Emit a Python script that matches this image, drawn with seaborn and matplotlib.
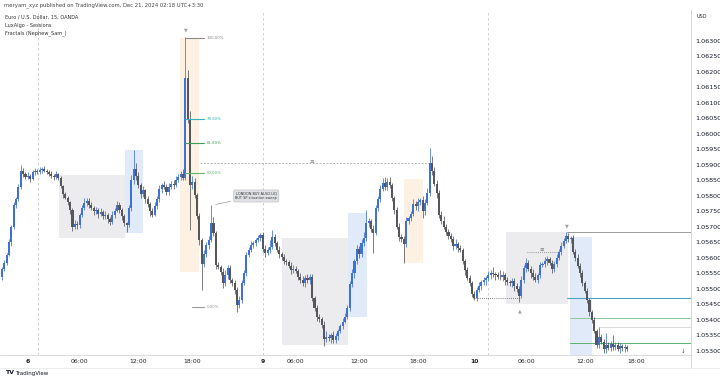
import numpy as np
import pandas as pd
import matplotlib
matplotlib.use("Agg")
import matplotlib.pyplot as plt
import seaborn as sns
from matplotlib.patches import Rectangle

# ---------------- data (prices in points above 1.05000, 1 point = 0.00001) -------------
BASE = 1.05
PT = 1e-5
first_open = 540
close_pts = [
    565, 585, 610, 650, 700, 770, 790, 830, 880, 870,
    862, 866, 856, 876, 882, 878, 885, 888, 882, 878,
    871, 866, 862, 870, 858, 832, 805, 795, 780, 755,
    700, 710, 705, 738, 760, 778, 785, 770, 762, 750,
    755, 742, 748, 735, 740, 725, 715, 738, 752, 770,
    755, 735, 712, 705, 760, 850, 888, 865, 835, 805,
    818, 790, 775, 752, 740, 768, 790, 822, 835, 828,
    812, 830, 840, 836, 852, 862, 870, 858, 1181, 1045,
    835, 845, 803, 735, 658, 580, 612, 642, 658, 713,
    680, 577, 571, 555, 519, 545, 568, 529, 519, 497,
    448, 464, 520, 552, 610, 626, 642, 648, 658, 664,
    674, 630, 616, 626, 635, 668, 648, 626, 612, 603,
    590, 587, 575, 561, 566, 558, 540, 529, 519, 535,
    528, 539, 470, 440, 410, 402, 385, 340, 345, 342,
    350, 335, 348, 365, 380, 395, 410, 440, 515, 552,
    590, 628, 612, 648, 665, 712, 718, 695, 681, 760,
    790, 822, 842, 830, 845, 835, 795, 755, 700, 668,
    660, 645, 720, 728, 742, 775, 768, 781, 787, 750,
    778, 810, 905, 880, 840, 810, 740, 720, 700, 684,
    672, 660, 640, 645, 632, 626, 590, 560, 536, 520,
    485, 470, 497, 510, 522, 530, 535, 545, 552, 548,
    545, 540, 538, 545, 530, 522, 518, 525, 510, 500,
    478, 530, 568, 585, 565, 552, 540, 530, 545, 578,
    580, 590, 596, 585, 565, 580, 600, 620, 640, 655,
    672, 660, 664, 620, 600, 575, 550, 520, 495, 464,
    425, 400, 365, 320, 345, 330, 305, 318, 310, 322,
    312, 320, 306, 315, 308, 312, 305,
]
up_wick = [
    6, 8, 5, 10, 6, 12, 8, 10, 20, 9,
    7, 10, 6, 9, 8, 6, 10, 7, 8, 5,
    6, 9, 5, 12, 4, 6, 5, 8, 6, 4,
    5, 12, 8, 6, 10, 14, 9, 7, 10, 6,
    8, 5, 12, 6, 10, 5, 8, 12, 10, 14,
    9, 6, 8, 5, 10, 18, 60, 20, 12, 8,
    15, 6, 10, 5, 8, 12, 10, 15, 8, 14,
    10, 12, 8, 10, 14, 9, 12, 18, 132, 25,
    30, 20, 12, 8, 10, 6, 14, 10, 12, 58,
    20, 8, 10, 6, 12, 15, 10, 8, 6, 10,
    8, 12, 10, 9, 8, 10, 12, 8, 6, 10,
    8, 10, 12, 8, 22, 22, 10, 8, 12, 6,
    10, 8, 6, 12, 10, 8, 6, 10, 14, 9,
    12, 8, 10, 6, 8, 10, 6, 12, 20, 10,
    8, 15, 10, 6, 8, 10, 12, 8, 10, 12,
    8, 14, 10, 12, 20, 43, 10, 8, 10, 12,
    10, 14, 15, 20, 12, 15, 8, 6, 10, 12,
    8, 10, 12, 8, 10, 14, 10, 12, 8, 14,
    12, 16, 50, 25, 15, 12, 8, 10, 14, 8,
    10, 8, 12, 16, 8, 10, 6, 8, 12, 8,
    6, 10, 8, 12, 8, 10, 6, 12, 10, 18,
    8, 10, 22, 12, 8, 10, 6, 12, 10, 8,
    10, 12, 8, 15, 10, 8, 12, 10, 8, 10,
    8, 12, 10, 6, 8, 10, 12, 8, 10, 8,
    12, 10, 6, 10, 8, 12, 8, 10, 6, 8,
    6, 8, 10, 6, 32, 10, 8, 40, 12, 10,
    30, 8, 10, 12, 8, 10, 6,
]
dn_wick = [
    12, 6, 8, 5, 10, 6, 8, 5, 6, 10,
    8, 6, 10, 5, 8, 6, 8, 10, 6, 8,
    5, 8, 10, 6, 8, 5, 10, 6, 8, 12,
    14, 6, 10, 8, 5, 6, 10, 8, 6, 10,
    8, 12, 6, 10, 8, 12, 10, 6, 8, 5,
    10, 12, 8, 21, 6, 8, 10, 12, 8, 10,
    8, 12, 10, 15, 8, 6, 10, 8, 12, 6,
    10, 8, 6, 12, 8, 6, 10, 8, 5, 10,
    145, 12, 10, 8, 15, 83, 10, 8, 12, 6,
    10, 12, 8, 10, 15, 8, 12, 10, 8, 12,
    22, 10, 8, 6, 10, 8, 6, 10, 8, 6,
    8, 10, 12, 8, 10, 6, 10, 8, 12, 10,
    8, 10, 6, 12, 10, 8, 12, 10, 8, 14,
    10, 12, 8, 10, 12, 8, 10, 24, 12, 10,
    15, 8, 10, 12, 8, 10, 6, 8, 12, 10,
    15, 8, 12, 10, 8, 10, 12, 10, 65, 8,
    10, 8, 6, 12, 10, 8, 10, 12, 8, 14,
    10, 61, 8, 12, 10, 8, 12, 15, 10, 20,
    12, 8, 10, 12, 8, 15, 10, 12, 8, 10,
    12, 8, 15, 10, 12, 8, 10, 14, 8, 10,
    12, 6, 10, 8, 12, 10, 18, 8, 12, 10,
    15, 8, 10, 12, 18, 10, 8, 12, 15, 10,
    20, 8, 10, 12, 8, 15, 10, 8, 12, 10,
    8, 10, 12, 8, 15, 10, 8, 6, 10, 8,
    8, 10, 12, 8, 10, 8, 12, 10, 8, 10,
    12, 10, 8, 12, 10, 8, 10, 12, 8, 10,
    8, 10, 6, 12, 8, 10, 6,
]
time_tick_bars = [11, 33, 58, 81, 111, 125, 152, 177, 201, 223, 248, 270]
time_tick_labels = ["6", "06:00", "12:00", "18:00", "9", "06:00", "12:00", "18:00",
                    "10", "06:00", "12:00", "18:00"]
price_ticks = [1.05300, 1.05350, 1.05400, 1.05450, 1.05500, 1.05550, 1.05600,
               1.05650, 1.05700, 1.05750, 1.05800, 1.05850, 1.05900, 1.05950,
               1.06000, 1.06050, 1.06100, 1.06150, 1.06200, 1.06250, 1.06300]
fib_levels = [("100.00%", 1310), ("78.60%", 1048), ("61.80%", 971), ("50.00%", 874), ("0.00%", 442)]

# ---------------- build OHLC -------------
c = np.array(close_pts, dtype=float)
o = np.concatenate([[first_open], c[:-1]])
hi = np.maximum(o, c) + np.array(up_wick)
lo = np.minimum(o, c) - np.array(dn_wick)
df = pd.DataFrame({"bar": np.arange(len(c)),
                   "open": BASE + o * PT, "close": BASE + c * PT,
                   "high": BASE + hi * PT, "low": BASE + lo * PT})
df["rise"] = df["close"] >= df["open"]


def P(pts):
    return BASE + pts * PT


sns.set_theme(style="white")
plt.rcParams["font.family"] = ["DejaVu Sans"]

fig = plt.figure(figsize=(7.2, 3.8), dpi=100)
fig.patch.set_facecolor("white")
ax = fig.add_axes([0, 0.0658, 0.9597, 0.9079])
ax.set_facecolor("white")

# ---------------- session boxes -------------
boxes = [
    (24.3, 52.3, 665, 868, "#e9e9eb"),
    (52.3, 60.0, 681, 948, "#dbe7f7"),
    (75.7, 83.8, 555, 1310, "#fcefdf"),
    (119.1, 147.2, 319, 664, "#e9e9eb"),
    (147.2, 155.3, 410, 745, "#dbe7f7"),
    (171.0, 179.1, 584, 855, "#fcefdf"),
    (214.5, 240.9, 452, 684, "#e9e9eb"),
    (241.7, 251.0, 250, 668, "#dbe7f7"),
]
for x0, x1, y0, y1, col in boxes:
    ax.add_patch(Rectangle((x0, P(y0)), x1 - x0, P(y1) - P(y0), facecolor=col,
                           edgecolor="none", alpha=0.85, zorder=0))

# day separators
for xv in [15.3, 111.0, 206.8]:
    ax.axvline(xv, color="#c8c8c8", lw=0.6, ls=(0, (3, 3)), zorder=0.5)

# ---------------- candles -------------
UP = "#4072d6"
DOWN = "#55575c"
for rise, col in [(True, UP), (False, DOWN)]:
    sub = df[df["rise"] == rise]
    ax.vlines(sub["bar"], sub["low"], sub["high"], color=col, lw=0.55, zorder=2)
    h = (sub["close"] - sub["open"]).abs().clip(lower=0.000015)
    ax.bar(sub["bar"], h, bottom=np.minimum(sub["open"], sub["close"]), width=0.88,
           color=col, linewidth=0, zorder=3)

# ---------------- horizontal levels on the right -------------
xr = 293.2
ax.plot([240.4, xr], [P(684)] * 2, color="#9a9a9a", lw=0.7, zorder=1)
ax.plot([240.4, xr], [P(471)] * 2, color="#4ea6c3", lw=0.8, zorder=1)
ax.plot([241.7, xr], [P(406)] * 2, color="#8cc79a", lw=0.7, zorder=1)
ax.plot([254.0, xr], [P(377)] * 2, color="#d5d5d5", lw=0.6, zorder=1)
ax.plot([241.7, xr], [P(326)] * 2, color="#5cb070", lw=0.7, zorder=1)

# liquidity lines
ax.plot([84.3, 182.1], [P(906)] * 2, color="#b5b5b5", lw=0.7, ls=(0, (2, 1.5)), zorder=1)
ax.text(131.9, P(912), "≡", fontsize=4, color="#777777", ha="center", va="center")
ax.plot([200.4, 220.4], [P(471)] * 2, color="#555555", lw=0.6, ls=(0, (1, 1.5)), zorder=1)
ax.plot([223.4, 237.4], [P(619)] * 2, color="#777777", lw=0.6, ls=(0, (1, 1.5)), zorder=1)
ax.text(229.8, P(628), "≡", fontsize=4, color="#777777", ha="center", va="center")

# fractal markers
ax.text(78.2, P(1335), "▼", fontsize=3.5, color="#a0a0a0", ha="center", va="center")
ax.text(240.4, P(703), "▼", fontsize=3.5, color="#a0a0a0", ha="center", va="center")
ax.text(220.4, P(430), "▲", fontsize=3.5, color="#a0a0a0", ha="center", va="center")

# fibonacci levels
fib_cols = ["#8a8a8a", "#2fb3b8", "#3f9f55", "#5cb86a", "#9a9a9a"]
for (lab, lvl), col in zip(fib_levels, fib_cols):
    x_start = 78.0 if lvl > 500 else 80.9
    ax.plot([x_start, 86.0], [P(lvl)] * 2, color=col, lw=0.8, zorder=4)
    ax.text(87.0, P(lvl), lab, fontsize=2.8, color=col, va="center", ha="left")

# callout
ax.annotate("LONDON BUY ALSO LIQ\nBUT SP situation sweep", xy=(89.8, P(771)),
            xytext=(108.2, P(800)), fontsize=2.5, color="#333333", ha="center",
            va="center",
            bbox=dict(boxstyle="round,pad=0.5", fc="#dfe1e6", ec="#b8b8b8", lw=0.4),
            arrowprops=dict(arrowstyle="-", color="#9a9a9a", lw=0.5))

# ---------------- axes -------------
ax.set_xlim(-0.85, 293.2)
ax.set_ylim(P(287), P(1400))
ax.yaxis.tick_right()
ax.set_yticks(price_ticks)
ax.set_yticklabels([f"{v:.5f}" for v in price_ticks])
ax.tick_params(axis="y", length=0, pad=3, labelsize=4.6, labelcolor="#131722")
ax.set_xticks(time_tick_bars)
ax.set_xticklabels(time_tick_labels)
ax.tick_params(axis="x", length=0, pad=3, labelsize=4.4, labelcolor="#222222")
for lab in ax.get_xticklabels():
    if ":" not in lab.get_text():
        lab.set_fontweight("bold")
for s in ["top", "left"]:
    ax.spines[s].set_visible(False)
ax.spines["right"].set_color("#cfcfcf")
ax.spines["right"].set_linewidth(0.6)
ax.spines["bottom"].set_color("#d6d6d6")
ax.spines["bottom"].set_linewidth(0.6)
ax.grid(False)

# extend price axis line through the time scale
fig.add_artist(plt.Line2D([691 / 720, 691 / 720], [1 - 368 / 380, 1 - 355 / 380],
                          color="#cfcfcf", lw=0.6))
fig.add_artist(plt.Line2D([0, 1], [1 - 368 / 380] * 2, color="#e6e6e6", lw=0.5))

# ---------------- header / footer texts -------------
fig.text(4 / 720, 1 - 5 / 380, "meryam_xyz published on TradingView.com, Dec 21, 2024 02:18 UTC+3:30",
         fontsize=3.8, color="#444444", va="center")
fig.text(5 / 720, 1 - 17 / 380, "Euro / U.S. Dollar, 15, OANDA", fontsize=3.6, color="#333333", va="center")
fig.text(5 / 720, 1 - 25 / 380, "LuxAlgo - Sessions", fontsize=3.6, color="#333333", va="center")
fig.text(5 / 720, 1 - 33 / 380, "Fractals (Nephew_Sam_)", fontsize=3.6, color="#333333", va="center")
fig.text(697 / 720, 1 - 16 / 380, "USD", fontsize=3.6, color="#333333", va="center")
fig.text(5 / 720, 1 - 373 / 380, "TV", fontsize=4.5, color="#131722", va="center", fontweight="bold")
fig.text(15 / 720, 1 - 373 / 380, "TradingView", fontsize=4, color="#131722", va="center")
fig.text(683 / 720, 1 - 351 / 380, "↓", fontsize=4, color="#555555", va="center", ha="center")

fig.savefig("out.png", dpi=100, facecolor="white")
